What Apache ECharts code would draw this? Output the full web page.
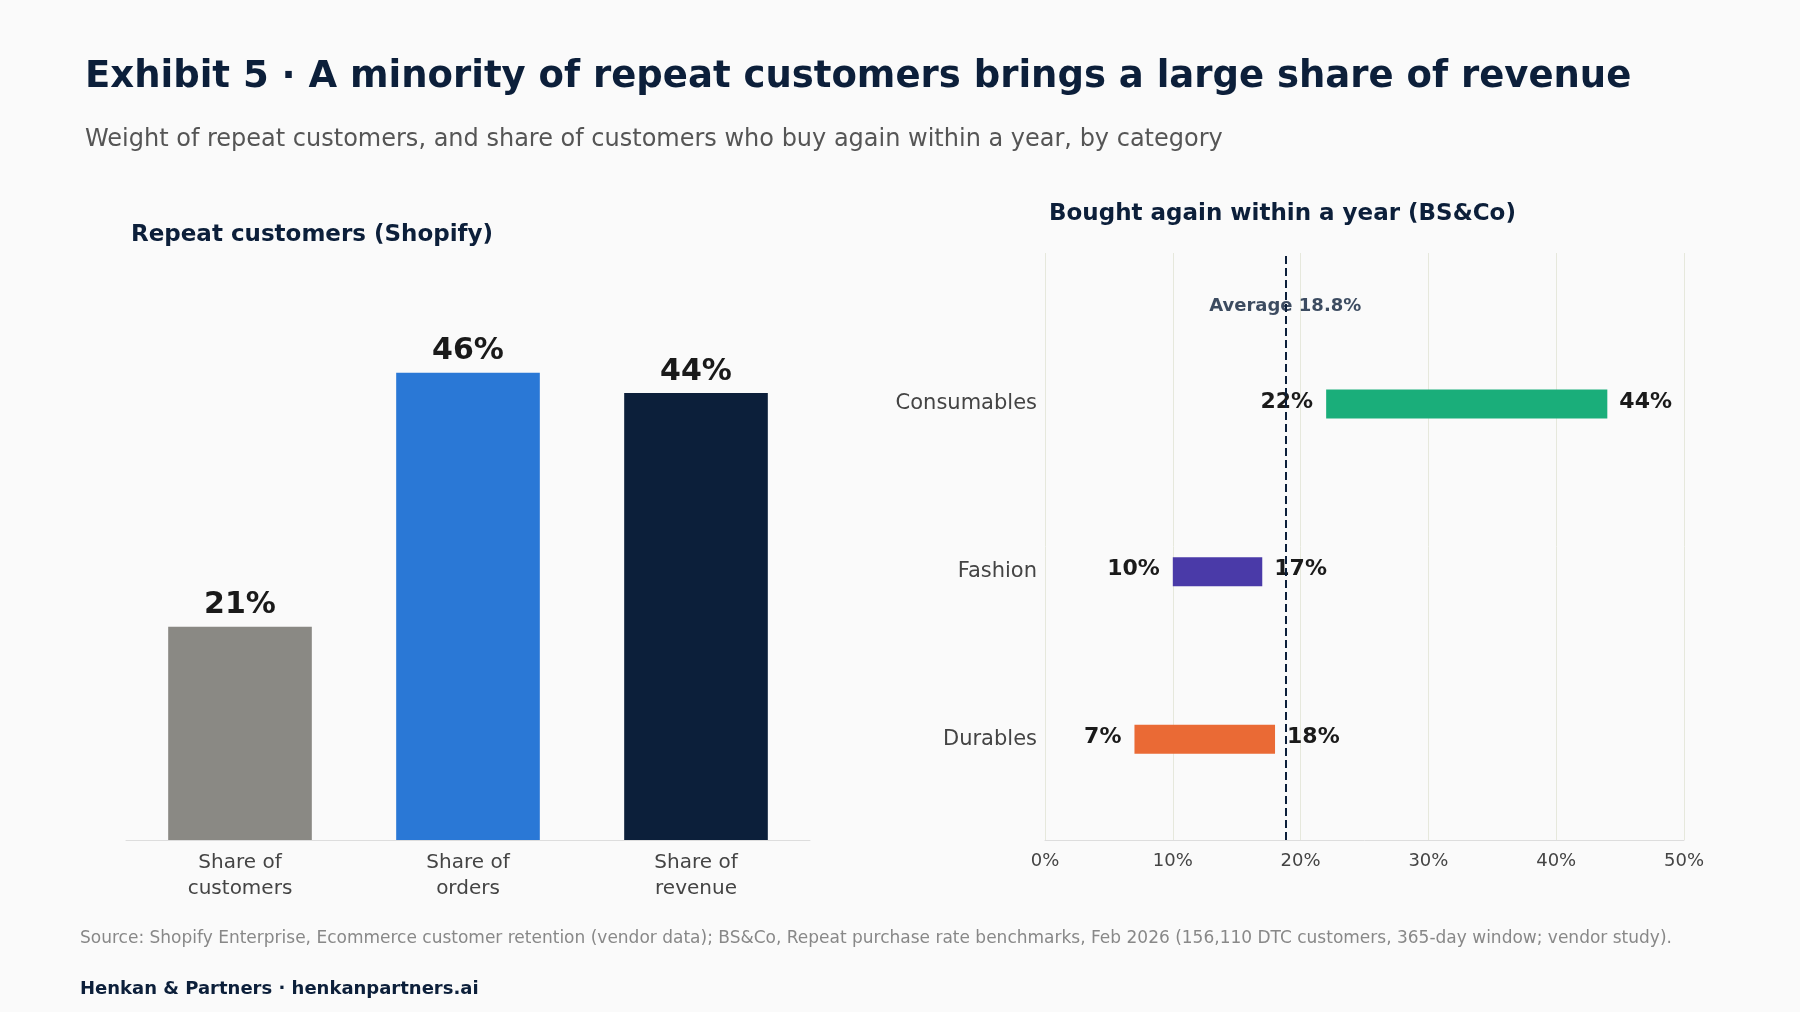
<!DOCTYPE html>
<html lang="en">
<head>
    <meta charset="utf-8">
    <title>Exhibit 5</title>
    <script src="https://cdn.jsdelivr.net/npm/echarts@6/dist/echarts.min.js"></script>
    <style>
        body { margin: 0; background: #fafafa; }
        #main { width: 1800px; height: 1012px; }
    </style>
</head>
<body>
<div id="main"></div>
<script>
    // left panel: Shopify
    let shareCats = ['Share of\ncustomers', 'Share of\norders', 'Share of\nrevenue'];
    let shareValues = [21, 46, 44];
    let shareColors = ['#8a8984', '#2a78d6', '#0c1f3a'];

    // right panel: BS&Co ranges
    let rangeCats = ['Consumables', 'Fashion', 'Durables'];
    let rangeLow = [22, 10, 7];
    let rangeHigh = [44, 17, 18];
    let rangePos = [2.6, 1.6, 0.6];
    let rangeColors = ['#1aae7a', '#4a3aa8', '#ea6a35'];
    let average = 18.8;
    let xTicks = [0, 10, 20, 30, 40, 50];

    let font = 'DejaVu Sans';
    let myChart = echarts.init(document.getElementById('main'));

    let rangeData = rangeCats.map(function (c, i) {
        return [rangeLow[i], rangeHigh[i], rangePos[i], i];
    });

    let option = {
        animation: false,
        backgroundColor: '#fafafa',
        textStyle: {fontFamily: font},
        title: [
            {text: 'Exhibit 5 · A minority of repeat customers brings a large share of revenue', left: 80, top: 54,
                textStyle: {fontSize: 37, fontWeight: 'bold', color: '#0c1f3a', fontFamily: font}},
            {text: 'Weight of repeat customers, and share of customers who buy again within a year, by category', left: 80, top: 123,
                textStyle: {fontSize: 24, fontWeight: 'normal', color: '#555', fontFamily: font}},
            {text: 'Repeat customers (Shopify)', left: 126, top: 219,
                textStyle: {fontSize: 23, fontWeight: 'bold', color: '#0c1f3a', fontFamily: font}},
            {text: 'Bought again within a year (BS&Co)', left: 1044, top: 198,
                textStyle: {fontSize: 23, fontWeight: 'bold', color: '#0c1f3a', fontFamily: font}}
        ],
        grid: [
            {left: 126, width: 684, top: 332, height: 508},
            {left: 1045, width: 639, top: 253, height: 587}
        ],
        xAxis: [
            {
                gridIndex: 0, type: 'category', data: shareCats,
                axisLine: {lineStyle: {color: '#ddd'}}, axisTick: {show: false},
                axisLabel: {fontSize: 20, color: '#444', lineHeight: 26, margin: 10}
            },
            {
                gridIndex: 1, type: 'value', min: 0, max: 50, interval: 10,
                axisLine: {show: true, lineStyle: {color: '#ddd'}}, axisTick: {show: false},
                splitLine: {lineStyle: {color: '#e6e8dc'}},
                axisLabel: {fontSize: 18, color: '#444', formatter: '{value}%', margin: 12}
            }
        ],
        yAxis: [
            {gridIndex: 0, type: 'value', min: 0, max: 50, show: false},
            {
                gridIndex: 1, type: 'value', min: 0, max: 3.5, interval: 0.1,
                axisLine: {show: false}, axisTick: {show: false}, splitLine: {show: false},
                axisLabel: {
                    fontSize: 21, color: '#444', margin: 8,
                    formatter: function (v) {
                        let idx = rangePos.findIndex(function (p) { return Math.abs(p - v) < 0.01; });
                        return idx >= 0 ? rangeCats[idx] : '';
                    }
                }
            }
        ],
        series: [
            {
                type: 'bar', xAxisIndex: 0, yAxisIndex: 0, barWidth: '63%',
                data: shareValues.map(function (v, i) { return {value: v, itemStyle: {color: shareColors[i]}}; }),
                label: {show: true, position: 'top', formatter: '{c}%', fontSize: 30, fontWeight: 'bold', color: '#1a1a1a', distance: 6}
            },
            {
                type: 'custom', xAxisIndex: 1, yAxisIndex: 1, data: rangeData,
                renderItem: function (params, api) {
                    let p0 = api.coord([api.value(0), api.value(2)]);
                    let p1 = api.coord([api.value(1), api.value(2)]);
                    let h = 29;
                    let i = api.value(3);
                    let st = {fontSize: 22, fontWeight: 'bold', fill: '#1a1a1a', fontFamily: font, verticalAlign: 'middle'};
                    return {
                        type: 'group',
                        children: [
                            {type: 'rect', shape: {x: p0[0], y: p0[1] - h / 2, width: p1[0] - p0[0], height: h},
                                style: {fill: rangeColors[i]}},
                            {type: 'text', style: Object.assign({text: api.value(0) + '%', x: p0[0] - 13, y: p0[1] - 2, align: 'right'}, st)},
                            {type: 'text', style: Object.assign({text: api.value(1) + '%', x: p1[0] + 12, y: p1[1] - 2, align: 'left'}, st)}
                        ]
                    };
                },
                markLine: {
                    silent: true, symbol: 'none', label: {show: false},
                    lineStyle: {type: 'dashed', color: '#0c1f3a', width: 2},
                    data: [{xAxis: average}]
                }
            },
            {
                type: 'scatter', xAxisIndex: 1, yAxisIndex: 1, symbolSize: 0,
                data: [[average, 3.18]],
                label: {show: true, position: 'inside', formatter: 'Average ' + average + '%',
                    fontSize: 18, fontWeight: 'bold', color: '#0c1f3a'}
            }
        ],
        graphic: [
            {type: 'text', left: 80, top: 928, style: {
                text: 'Source: Shopify Enterprise, Ecommerce customer retention (vendor data); BS&Co, Repeat purchase rate benchmarks, Feb 2026 (156,110 DTC customers, 365-day window; vendor study).',
                width: 1715, overflow: 'break', fontSize: 17, lineHeight: 22, fill: '#888', fontFamily: font}},
            {type: 'text', left: 80, top: 980, style: {
                text: 'Henkan & Partners · henkanpartners.ai', fontSize: 18, fontWeight: 'bold', fill: '#0c1f3a', fontFamily: font}}
        ]
    };
    myChart.setOption(option);
</script>
</body>
</html>
